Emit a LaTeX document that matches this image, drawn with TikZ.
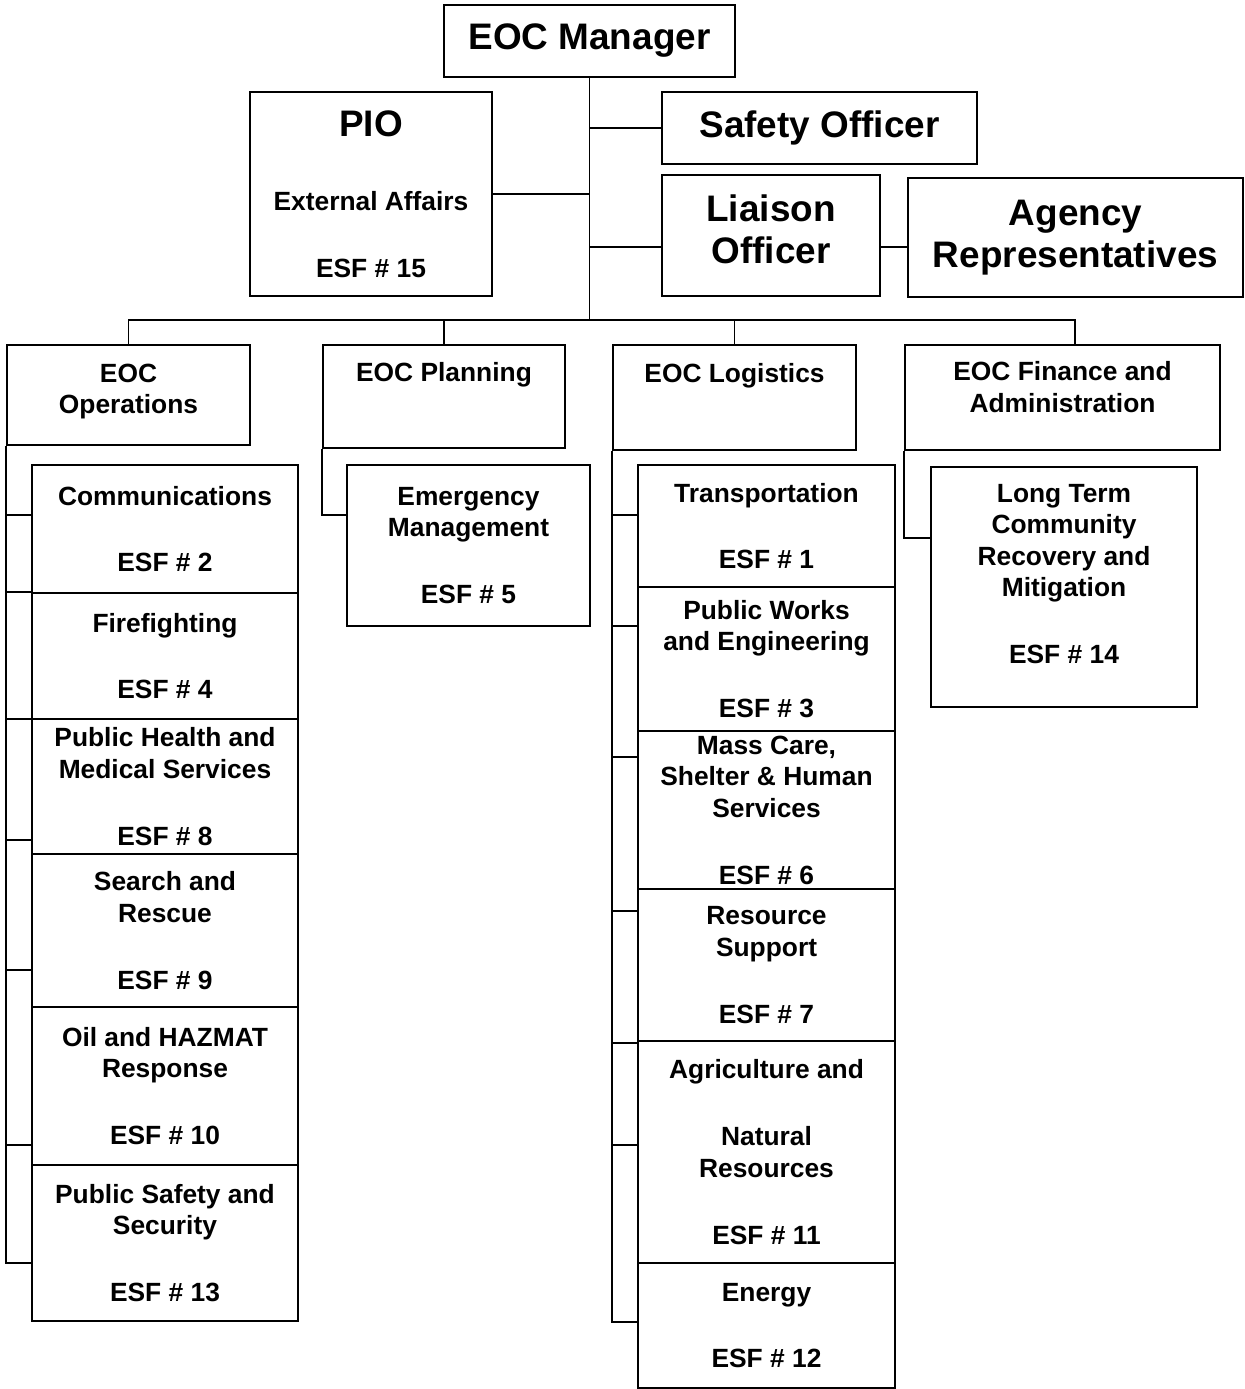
\documentclass[tikz,border=0pt]{standalone}
\usepackage{fontspec}
\setmainfont{Liberation Sans}
\usepackage{tikz}
\usetikzlibrary{calc}
\tikzset{orgbox/.style={draw=black,line width=1pt,fill=white,inner sep=1pt,align=center,font=\bfseries\fontsize{15}{18}\selectfont},
  bigbox/.style={orgbox,font=\bfseries\fontsize{21}{24}\selectfont}}

\begin{document}
\begin{tikzpicture}[-, line width=1pt]
\useasboundingbox (0,0) rectangle (24.88,-27.78);
    % command staff
    \node[bigbox,minimum width=5.82cm,minimum height=1.44cm] (mgr) at (11.79,-0.82) {EOC Manager};
    \node[orgbox,minimum width=4.84cm,minimum height=4.08cm] (pio) at (7.42,-3.88) {{\fontsize{21}{24}\selectfont PIO}\\[24pt]External Affairs\\[20pt]ESF \# 15};
    \node[bigbox,minimum width=6.30cm,minimum height=1.44cm] (safety) at (16.39,-2.56) {Safety Officer};
    \node[bigbox,minimum width=4.36cm,minimum height=2.42cm] (liaison) at (15.42,-4.71) {Liaison\\Officer\\[-17pt]\mbox{}};
    \node[bigbox,minimum width=6.70cm,minimum height=2.38cm] (agency) at (21.51,-4.75) {Agency\\Representatives};
    % sections
    \node[orgbox,minimum width=4.86cm,minimum height=2.00cm] (ops) at (2.57,-7.90) {EOC\\Operations\\[-11pt]\mbox{}};
    \node[orgbox,minimum width=4.84cm,minimum height=2.06cm] (plan) at (8.88,-7.93) {EOC Planning\\[4pt]\strut};
    \node[orgbox,minimum width=4.86cm,minimum height=2.10cm] (logi) at (14.69,-7.95) {EOC Logistics\\[5pt]\strut};
    \node[orgbox,minimum width=6.30cm,minimum height=2.10cm] (fin) at (21.25,-7.95) {EOC Finance and\\Administration\\[-6pt]\mbox{}};
    % operations
    \node[orgbox,minimum width=5.32cm,minimum height=2.56cm] (comm) at (3.30,-10.58) {Communications\\[20pt]ESF \# 2};
    \node[orgbox,minimum width=5.32cm,minimum height=2.52cm] (fire) at (3.30,-13.12) {Firefighting\\[20pt]ESF \# 4};
    \node[orgbox,minimum width=5.32cm,minimum height=2.70cm] (health) at (3.30,-15.73) {Public Health and\\Medical Services\\[20pt]ESF \# 8};
    \node[orgbox,minimum width=5.32cm,minimum height=3.06cm] (search) at (3.30,-18.61) {Search and\\Rescue\\[20pt]ESF \# 9};
    \node[orgbox,minimum width=5.32cm,minimum height=3.16cm] (oil) at (3.30,-21.72) {Oil and HAZMAT\\Response\\[20pt]ESF \# 10};
    \node[orgbox,minimum width=5.32cm,minimum height=3.12cm] (psafety) at (3.30,-24.86) {Public Safety and\\Security\\[20pt]ESF \# 13};
    % planning
    \node[orgbox,minimum width=4.86cm,minimum height=3.22cm] (emerg) at (9.37,-10.91) {Emergency\\Management\\[20pt]ESF \# 5};
    % logistics
    \node[orgbox,minimum width=5.14cm,minimum height=2.44cm] (trans) at (15.33,-10.52) {Transportation\\[20pt]ESF \# 1};
    \node[orgbox,minimum width=5.14cm,minimum height=2.88cm] (works) at (15.33,-13.18) {Public Works\\and Engineering\\[20pt]ESF \# 3};
    \node[orgbox,minimum width=5.14cm,minimum height=3.16cm] (mass) at (15.33,-16.20) {Mass Care,\\Shelter \& Human\\Services\\[20pt]ESF \# 6};
    \node[orgbox,minimum width=5.14cm,minimum height=3.04cm] (resource) at (15.33,-19.30) {Resource\\Support\\[20pt]ESF \# 7};
    \node[orgbox,minimum width=5.14cm,minimum height=4.44cm] (agri) at (15.33,-23.04) {Agriculture and\\[20pt]Natural\\Resources\\[20pt]ESF \# 11};
    \node[orgbox,minimum width=5.14cm,minimum height=2.50cm] (energy) at (15.33,-26.51) {Energy\\[20pt]ESF \# 12};
    % finance
    \node[orgbox,minimum width=5.32cm,minimum height=4.80cm] (longterm) at (21.28,-11.74) {Long Term\\Community\\Recovery and\\Mitigation\\[20pt]ESF \# 14\\[-3pt]\mbox{}};

    % trunk and bus
    \coordinate (bus) at (11.79,-6.40);
    \coordinate (finbus) at (21.50,-6.40);
    \draw (mgr) -- (bus);
    \draw (pio.east) -- (pio.east -| bus);
    \draw (safety.west) -- (safety.west -| bus);
    \draw (liaison.west |- 0,-4.94) -- (bus |- 0,-4.94);
    \draw (liaison.east |- 0,-4.94) -- (agency.west |- 0,-4.94);
    \draw (ops.north) |- (bus);
    \draw (plan.north) |- (bus);
    \draw (logi.north) |- (bus);
    \draw (bus) -- (finbus) -- (finbus |- fin.north);
    % section lines
    \draw (ops.south west) -- (ops.south west |- 0,-25.26) -- (psafety.west |- 0,-25.26);
    \foreach \y in {-10.30,-11.84,-14.38,-16.80,-19.40,-22.90}
      \draw (ops.south west |- 0,\y) -- (comm.west |- 0,\y);
    \draw (plan.south west) |- (emerg.west |- 0,-10.30);
    \draw (logi.south west) -- (logi.south west |- 0,-26.44) -- (energy.west |- 0,-26.44);
    \foreach \y in {-10.30,-12.52,-15.14,-18.22,-20.86,-22.90}
      \draw (logi.south west |- 0,\y) -- (trans.west |- 0,\y);
    \draw (fin.south west) |- (longterm.west |- 0,-10.76);
\end{tikzpicture}
\end{document}
